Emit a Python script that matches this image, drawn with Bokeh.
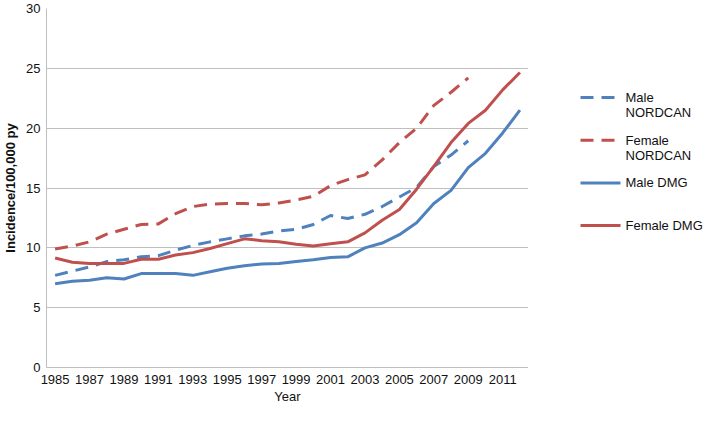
from bokeh.plotting import figure
from bokeh.layouts import row
from bokeh.models import Range1d, FixedTicker
from bokeh.core.properties import value
from bokeh.embed import file_html
from bokeh.resources import INLINE

# ---- data ----
years = [1985, 1986, 1987, 1988, 1989, 1990, 1991, 1992, 1993, 1994, 1995, 1996, 1997, 1998,
         1999, 2000, 2001, 2002, 2003, 2004, 2005, 2006, 2007, 2008, 2009, 2010, 2011, 2012]
nordcan_years = years[:25]

male_nordcan = [7.7, 8.05, 8.4, 8.85, 9.0, 9.25, 9.35, 9.8, 10.2, 10.5, 10.75, 11.0, 11.15, 11.4,
                11.55, 11.95, 12.7, 12.45, 12.8, 13.45, 14.25, 15.05, 16.8, 17.75, 18.95]
female_nordcan = [9.9, 10.15, 10.5, 11.15, 11.55, 11.95, 12.0, 12.85, 13.45, 13.65, 13.7, 13.7, 13.6, 13.75,
                  14.0, 14.3, 15.2, 15.7, 16.1, 17.35, 18.8, 20.0, 21.9, 23.0, 24.2]
male_dmg = [7.0, 7.2, 7.3, 7.5, 7.4, 7.85, 7.85, 7.85, 7.7, 8.0, 8.3, 8.5, 8.65, 8.7,
            8.85, 9.0, 9.2, 9.25, 10.0, 10.4, 11.1, 12.1, 13.7, 14.8, 16.7, 17.9, 19.6, 21.5]
female_dmg = [9.15, 8.8, 8.7, 8.7, 8.7, 9.05, 9.05, 9.4, 9.6, 9.95, 10.35, 10.75, 10.6, 10.5,
              10.3, 10.15, 10.35, 10.5, 11.25, 12.3, 13.2, 14.9, 16.8, 18.8, 20.4, 21.5, 23.2, 24.65]

x_tick_years = [1985, 1987, 1989, 1991, 1993, 1995, 1997, 1999, 2001, 2003, 2005, 2007, 2009, 2011]
y_ticks = [0, 5, 10, 15, 20, 25, 30]

legend_labels = [["Male", "NORDCAN"], ["Female", "NORDCAN"], ["Male DMG"], ["Female DMG"]]

BLUE = "#4F81BD"
RED = "#C0504D"
FONT = "Liberation Sans"
DASH = "13 8"
TXT = "#111111"

series = [
    (nordcan_years, male_nordcan, BLUE, DASH),
    (nordcan_years, female_nordcan, RED, DASH),
    (years, male_dmg, BLUE, "solid"),
    (years, female_dmg, RED, "solid"),
]

# layout constants (pixels)
H = 407
TOP, BOTTOM = 8, 40
MAIN_W, LEG_W = 528, 177

# ---- main chart ----
p = figure(width=MAIN_W, height=H, output_backend="svg", toolbar_location=None,
           x_range=Range1d(years[0] - 0.5, years[-1] + 0.5), y_range=Range1d(0, 30),
           min_border_left=45, min_border_right=0, min_border_top=TOP, min_border_bottom=BOTTOM)
p.outline_line_color = None

for xs, ys, col, dash in series:
    p.line(xs, ys, line_color=col, line_width=3, line_dash=dash, line_join="round", line_cap="butt")

p.xgrid.visible = False
p.ygrid.grid_line_color = "#BFBFBF"
p.ygrid.grid_line_width = 1
p.ygrid.ticker = FixedTicker(ticks=y_ticks)

for ax in (p.xaxis[0], p.yaxis[0]):
    ax.axis_line_color = "#BFBFBF"
    ax.major_tick_line_color = None
    ax.minor_tick_line_color = None
    ax.major_tick_out = 0
    ax.major_tick_in = 0
    ax.minor_tick_out = 0
    ax.minor_tick_in = 0
    ax.major_label_text_font = FONT
    ax.major_label_text_font_size = "13px"
    ax.major_label_text_color = TXT
    ax.axis_label_text_font = FONT
    ax.axis_label_text_font_size = "13px"
    ax.axis_label_text_color = TXT

xa = p.xaxis[0]
xa.ticker = FixedTicker(ticks=x_tick_years)
xa.axis_label = "Year"
xa.axis_label_text_font_style = "normal"
xa.major_label_standoff = 7
xa.axis_label_standoff = 2

ya = p.yaxis[0]
ya.ticker = FixedTicker(ticks=y_ticks)
ya.axis_label = "Incidence/100,000 py"
ya.axis_label_text_font_style = "bold"
ya.major_label_standoff = 6
ya.axis_label_standoff = 5

# ---- legend panel (data units == pixels inside the panel) ----
leg = figure(width=LEG_W, height=H, output_backend="svg", toolbar_location=None,
             x_range=Range1d(0, LEG_W), y_range=Range1d(H - BOTTOM, TOP),
             x_axis_type=None, y_axis_type=None,
             min_border_left=0, min_border_right=0, min_border_top=TOP, min_border_bottom=BOTTOM)
leg.outline_line_color = None
leg.grid.visible = False

row_y0, row_step = 97, 42.7
line_x0, line_x1, text_x, line_gap = 52, 92, 97, 15
for i, (labels, (xs, ys, col, dash)) in enumerate(zip(legend_labels, series)):
    yy = row_y0 + i * row_step
    leg.line([line_x0, line_x1], [yy, yy], line_color=col, line_width=3, line_dash=dash)
    for j, t in enumerate(labels):
        leg.text(x=[text_x], y=[yy + j * line_gap], text=[t], text_font=value(FONT),
                 text_font_size="13px", text_baseline="middle", text_align="left",
                 text_color=TXT)

layout = row(p, leg)
open("out.html", "w").write(file_html(layout, INLINE))
